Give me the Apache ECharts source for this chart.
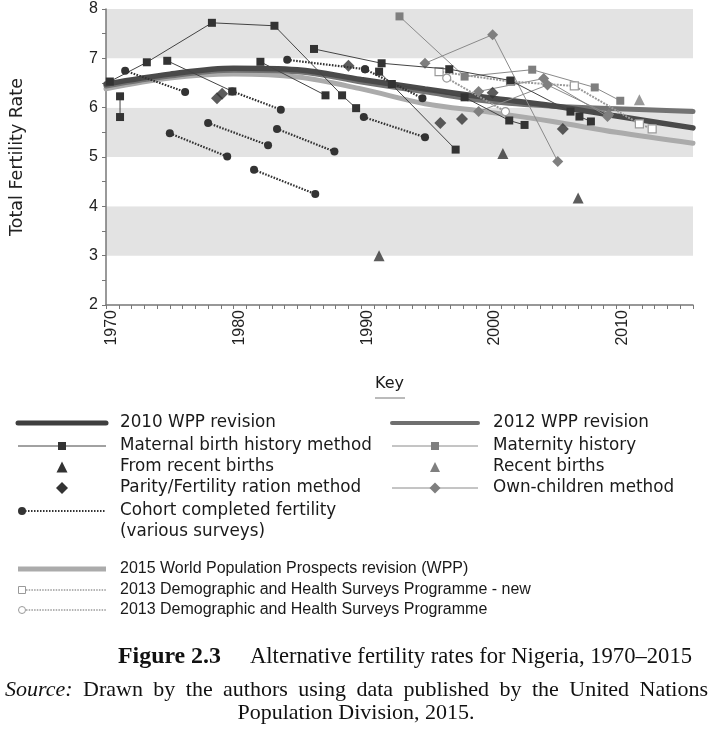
<!DOCTYPE html>
<html><head><meta charset="utf-8">
<script src="https://cdn.jsdelivr.net/npm/echarts@6/dist/echarts.min.js"></script>
<style>html,body{margin:0;padding:0;background:#fff}#c{width:714px;height:729px}</style>
</head><body><div id="c"></div>
<script>
// ---- data ----
const wppYears = [1970, 1975, 1980, 1985, 1990, 1995, 2000, 2005, 2010, 2016];
const wpp2010 = [6.48, 6.68, 6.80, 6.77, 6.57, 6.38, 6.20, 6.04, 5.83, 5.59];
const wpp2012 = [6.44, 6.64, 6.76, 6.73, 6.52, 6.32, 6.13, 6.03, 5.98, 5.92];
const wpp2015 = [6.38, 6.60, 6.68, 6.62, 6.38, 6.08, 5.91, 5.72, 5.50, 5.28];

const maternalSegments = [
  [[1970.3, 6.53], [1973.2, 6.92], [1978.3, 7.72], [1983.2, 7.66], [1988.5, 6.25], [1989.6, 5.99]],
  [[1971.1, 6.23], [1971.1, 5.81]],
  [[1974.8, 6.95], [1979.9, 6.33]],
  [[1982.1, 6.93], [1987.2, 6.25]],
  [[1986.3, 7.19], [1991.6, 6.90], [1996.9, 6.78], [2001.7, 6.55], [2006.4, 5.92]],
  [[1991.4, 6.73], [1997.4, 5.15]],
  [[1992.4, 6.48], [1998.1, 6.21], [2001.6, 5.74], [2002.8, 5.65]],
  [[2007.1, 5.82], [2008.0, 5.72]]
];
const maternitySegments = [
  [[1993.0, 7.85], [1998.1, 6.63], [2003.4, 6.77], [2008.3, 6.41], [2010.3, 6.14]]
];
const fromRecentBirths = [[1991.4, 3.0], [2001.1, 5.07], [2007.0, 4.17]];
const recentBirths = [[2011.8, 6.16]];
const parityPoints = [[1978.7, 6.19], [1979.1, 6.28], [1989.0, 6.85], [1996.2, 5.69], [1997.9, 5.77], [2000.3, 6.30], [2005.8, 5.57]];
const ownChildrenSegments = [
  [[1995.0, 6.90], [2000.3, 7.48], [2005.4, 4.91]],
  [[1999.2, 6.33], [2004.3, 6.59], [2009.3, 5.82]],
  [[1999.2, 5.92], [2004.6, 6.46], [2009.4, 5.86]]
];
const cohortSegments = [
  [[1971.5, 6.75], [1976.2, 6.32]],
  [[1975.0, 5.48], [1979.5, 5.01]],
  [[1978.0, 5.69], [1982.7, 5.24]],
  [[1979.9, 6.33], [1983.7, 5.96]],
  [[1983.4, 5.57], [1987.9, 5.11]],
  [[1981.6, 4.74], [1986.4, 4.25]],
  [[1984.2, 6.97], [1990.3, 6.78]],
  [[1990.3, 6.78], [1994.8, 6.19]],
  [[1990.2, 5.81], [1995.0, 5.40]]
];
const dhsNewSegments = [
  [[1996.1, 6.73], [2001.7, 6.53], [2006.7, 6.44], [2011.8, 5.67], [2012.8, 5.57]]
];
const dhsSegments = [
  [[1996.7, 6.60], [2001.3, 5.92]]
];
const yTicks = [2, 3, 4, 5, 6, 7, 8];
const xLabelYears = [1970, 1980, 1990, 2000, 2010];

// ---- styles ----
const FONT = '"Liberation Sans", Arial, sans-serif';
const WFONT = '"DejaVu Sans", "Liberation Sans", sans-serif';
const SERIF = '"Liberation Serif", "DejaVu Serif", serif';
const DARK = '#333333';
const GREY = '#7f7f7f';

const mctx = document.createElement('canvas').getContext('2d');
function measure(text, font) { mctx.font = font; return mctx.measureText(text).width; }

const series = [];
series.push({type:'line', name:'2015 World Population Prospects revision (WPP)', data: wppYears.map((y,i)=>[y,wpp2015[i]]),
  smooth:0.35, symbol:'none', lineStyle:{color:'#ababab', width:5, cap:'round'}, z:1});
series.push({type:'line', name:'2012 WPP revision', data: wppYears.map((y,i)=>[y,wpp2012[i]]),
  smooth:0.35, symbol:'none', lineStyle:{color:'#737373', width:5, cap:'round'}, z:2});
series.push({type:'line', name:'2010 WPP revision', data: wppYears.map((y,i)=>[y,wpp2010[i]]),
  smooth:0.35, symbol:'none', lineStyle:{color:'#4a4a4a', width:5.5, cap:'round'}, z:3});

maternitySegments.forEach(s => series.push({type:'line', name:'Maternity history', data:s,
  symbol:'rect', symbolSize:8, itemStyle:{color:GREY}, lineStyle:{color:'#8a8a8a', width:1}, z:4}));
ownChildrenSegments.forEach(s => series.push({type:'line', name:'Own-children method', data:s,
  symbol:'diamond', symbolSize:11, itemStyle:{color:GREY}, lineStyle:{color:'#8a8a8a', width:1}, z:4}));
dhsNewSegments.forEach(s => series.push({type:'line', name:'2013 Demographic and Health Surveys Programme - new', data:s,
  symbol:'rect', symbolSize:8, itemStyle:{color:'#ffffff', borderColor:'#9a9a9a', borderWidth:1.2},
  lineStyle:{color:'#9a9a9a', width:2, type:[2,1.2]}, z:4}));
dhsSegments.forEach(s => series.push({type:'line', name:'2013 Demographic and Health Surveys Programme', data:s,
  symbol:'circle', symbolSize:8, itemStyle:{color:'#ffffff', borderColor:'#9a9a9a', borderWidth:1.2},
  lineStyle:{color:'#9a9a9a', width:2, type:[2,1.2]}, z:4}));
maternalSegments.forEach(s => series.push({type:'line', name:'Maternal birth history method', data:s,
  symbol:'rect', symbolSize:8, itemStyle:{color:DARK}, lineStyle:{color:'#444', width:1}, z:5}));
cohortSegments.forEach(s => series.push({type:'line', name:'Cohort completed fertility (various surveys)', data:s,
  symbol:'circle', symbolSize:8, itemStyle:{color:DARK}, lineStyle:{color:DARK, width:2.2, type:[1.6,1.4]}, z:5}));
series.push({type:'scatter', name:'Parity/Fertility ration method', data:parityPoints,
  symbol:'diamond', symbolSize:12, itemStyle:{color:DARK}, z:6});
series.push({type:'scatter', name:'From recent births', data:fromRecentBirths,
  symbol:'triangle', symbolSize:11, itemStyle:{color:DARK}, z:6});
series.push({type:'scatter', name:'Recent births', data:recentBirths,
  symbol:'triangle', symbolSize:11, itemStyle:{color:GREY}, z:6});

// ---- legend (drawn as graphic) ----
const g = [];
const LFONT = '16.8px ' + WFONT;
function txt(x, y, text, extra) {
  g.push({type:'text', x:x, y:y, style:Object.assign({text:text, font:LFONT, fill:'#1a1a1a', textVerticalAlign:'middle'}, extra||{}), z:10});
}
function hline(x1, x2, y, style) { g.push({type:'line', shape:{x1:x1,y1:y,x2:x2,y2:y}, style:style, z:10}); }
function rect(cx, cy, s, fill, stroke) { g.push({type:'rect', shape:{x:cx-s/2,y:cy-s/2,width:s,height:s}, style:{fill:fill, stroke:stroke||null, lineWidth:1}, z:11}); }
function diamond(cx, cy, s, fill) { g.push({type:'polygon', shape:{points:[[cx,cy-s/2],[cx+s/2,cy],[cx,cy+s/2],[cx-s/2,cy]]}, style:{fill:fill}, z:11}); }
function tri(cx, cy, s, fill) { g.push({type:'polygon', shape:{points:[[cx,cy-s/2],[cx+s/2,cy+s/2],[cx-s/2,cy+s/2]]}, style:{fill:fill}, z:11}); }
function circ(cx, cy, r, fill, stroke) { g.push({type:'circle', shape:{cx:cx,cy:cy,r:r}, style:{fill:fill, stroke:stroke||null, lineWidth:1}, z:11}); }

const L1 = 18, L2 = 106, LC = 62, LT = 120;
const R1 = 392, R2 = 478, RC = 435, RT = 493;
const rows = [423, 446, 467, 488, 511, 532];

txt(375, 384, 'Key', {font:'16px ' + WFONT});
hline(375, 405, 398, {stroke:'#777', lineWidth:1});

hline(L1, L2, rows[0], {stroke:'#3f3f3f', lineWidth:5, lineCap:'round'});
txt(LT, rows[0], '2010 WPP revision');
hline(L1, L2, rows[1], {stroke:'#444', lineWidth:1});
rect(LC, rows[1], 8, DARK);
txt(LT, rows[1], 'Maternal birth history method');
tri(LC, rows[2], 11, DARK);
txt(LT, rows[2], 'From recent births');
diamond(LC, rows[3], 12, DARK);
txt(LT, rows[3], 'Parity/Fertility ration method');
hline(L1 + 4, L2, rows[4], {stroke:DARK, lineWidth:2, lineDash:[1.5,1.5]});
circ(L1 + 4, rows[4], 4, DARK);
txt(LT, rows[4], 'Cohort completed fertility');
txt(LT, rows[5], '(various surveys)');

hline(R1, R2, rows[0], {stroke:'#6f6f6f', lineWidth:4, lineCap:'round'});
txt(RT, rows[0], '2012 WPP revision');
hline(R1, R2, rows[1], {stroke:'#8a8a8a', lineWidth:1});
rect(RC, rows[1], 8, GREY);
txt(RT, rows[1], 'Maternity history');
tri(RC, rows[2], 10, GREY);
txt(RT, rows[2], 'Recent births');
hline(R1, R2, rows[3], {stroke:'#8a8a8a', lineWidth:1});
diamond(RC, rows[3], 11, GREY);
txt(RT, rows[3], 'Own-children method');

const rowsB = [569, 590, 610];
const BFONT = '16px ' + FONT;
hline(L1, L2, rowsB[0], {stroke:'#ababab', lineWidth:5});
txt(LT, rowsB[0], '2015 World Population Prospects revision (WPP)', {font:BFONT});
hline(L1 + 8, L2, rowsB[1], {stroke:'#9a9a9a', lineWidth:1.5, lineDash:[1.5,1.2]});
rect(L1 + 4, rowsB[1], 7, '#fff', '#9a9a9a');
txt(LT, rowsB[1], '2013 Demographic and Health Surveys Programme - new', {font:BFONT});
hline(L1 + 8, L2, rowsB[2], {stroke:'#9a9a9a', lineWidth:1.5, lineDash:[1.5,1.2]});
circ(L1 + 4, rowsB[2], 3.5, '#fff', '#9a9a9a');
txt(LT, rowsB[2], '2013 Demographic and Health Surveys Programme', {font:BFONT});

// ---- caption (sized to the reference's measured widths) ----
const figLabel = 'Figure 2.3';
const figTitle = 'Alternative fertility rates for Nigeria, 1970–2015';
const figSize = Math.min(24, 20 * 103 / measure(figLabel, 'bold 20px ' + SERIF));
const titleSize = Math.min(24, 20 * 442 / measure(figTitle, '20px ' + SERIF));
g.push({type:'text', x:118, y:657, style:{text:figLabel, font:'bold ' + figSize.toFixed(2) + 'px ' + SERIF, fill:'#111', textVerticalAlign:'middle'}, z:10});
g.push({type:'text', x:250, y:657, style:{text:figTitle, font:titleSize.toFixed(2) + 'px ' + SERIF, fill:'#111', textVerticalAlign:'middle'}, z:10});

const popLine = 'Population Division, 2015.';
const srcText = 'Source: Drawn by the authors using data published by the United Nations';
const srcSize = Math.min(22, 20 * 655 / measure(srcText, '20px ' + SERIF));
const srcFont = srcSize.toFixed(2) + 'px ' + SERIF;
const srcWords = srcText.split(' ');
const srcFonts = srcWords.map((w, i) => (i === 0 ? 'italic ' : '') + srcFont);
const srcWidths = srcWords.map((w, i) => measure(w, srcFonts[i]));
const srcGap = (708 - 5 - srcWidths.reduce((a, b) => a + b, 0)) / (srcWords.length - 1);
let sx = 5;
srcWords.forEach((w, i) => {
  g.push({type:'text', x:sx, y:690, style:{text:w, font:srcFonts[i], fill:'#111', textVerticalAlign:'middle'}, z:10});
  sx += srcWidths[i] + srcGap;
});
g.push({type:'text', x:356, y:713, style:{text:popLine, font:srcFont, fill:'#111', textAlign:'center', textVerticalAlign:'middle'}, z:10});

const chart = echarts.init(document.getElementById('c'), null, {renderer:'canvas'});
chart.setOption({
  animation:false,
  backgroundColor:'#ffffff',
  grid:{left:104, top:9, width:589, height:296, containLabel:false},
  xAxis:{type:'value', min:1970, max:2016, interval:1,
    axisLine:{show:true, onZero:false, lineStyle:{color:'#777', width:1.5}},
    axisTick:{show:true, length:4, lineStyle:{color:'#777', width:1}},
    axisLabel:{rotate:90, margin:5, fontSize:16, fontFamily:FONT, color:'#222', verticalAlign:'top', lineHeight:12,
      formatter: v => xLabelYears.indexOf(v) >= 0 ? String(v) : ''},
    splitLine:{show:false}},
  yAxis:{type:'value', min:yTicks[0], max:yTicks[yTicks.length-1], interval:1,
    name:'Total Fertility Rate', nameLocation:'middle', nameGap:80,
    nameTextStyle:{fontSize:17.5, fontFamily:WFONT, color:'#222'},
    axisLine:{show:true, lineStyle:{color:'#777', width:1.5}},
    axisTick:{show:true, length:4, lineStyle:{color:'#777'}},
    minorTick:{show:true, splitNumber:2, length:4, lineStyle:{color:'#777'}},
    axisLabel:{fontSize:16, fontFamily:FONT, color:'#222', margin:8},
    splitLine:{show:false},
    splitArea:{show:true, areaStyle:{color:['#ffffff','#e3e3e3']}}},
  series: series,
  graphic: g
});
</script></body></html>
